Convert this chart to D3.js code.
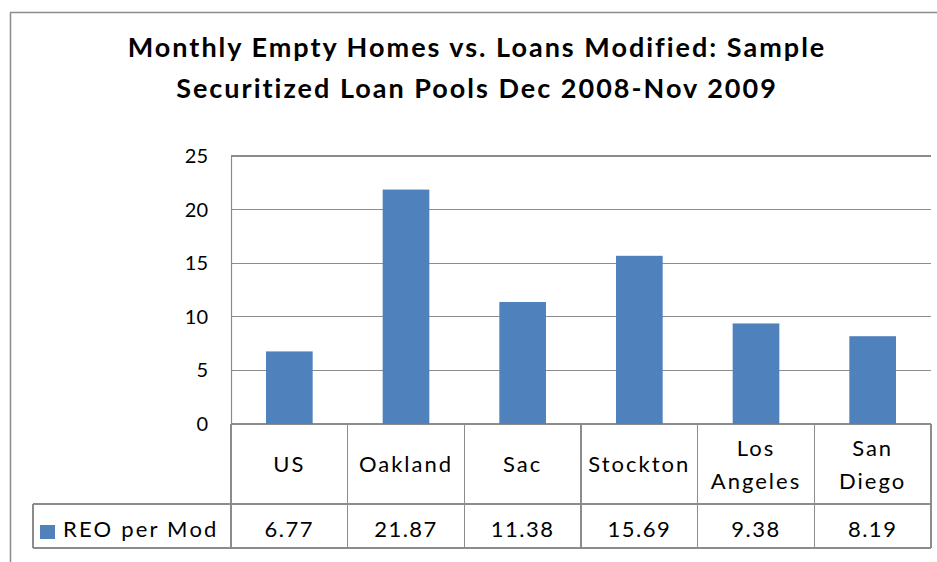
<!DOCTYPE html>
<html>
<head>
<meta charset="utf-8">
<script src="https://cdn.jsdelivr.net/npm/d3@7"></script>
<style>
  body { margin: 0; background: #fff; }
  svg { display: block; font-family: Lato, 'Open Sans', sans-serif; }
  .grid line { stroke: #8c8c8c; stroke-width: 1.2; shape-rendering: crispEdges; }
  .cell line { stroke: #8c8c8c; stroke-width: 1.2; shape-rendering: crispEdges; }
</style>
</head>
<body>
<svg id="chart" width="937" height="562"></svg>
<script>
const titleLines = ['Monthly Empty Homes vs. Loans Modified: Sample', 'Securitized Loan Pools Dec 2008-Nov 2009'];
const categories = ['US', 'Oakland', 'Sac', 'Stockton', 'Los Angeles', 'San Diego'];
const reoPerMod = [6.77, 21.87, 11.38, 15.69, 9.38, 8.19];
const seriesName = 'REO per Mod';
const yTicks = [0, 5, 10, 15, 20, 25];

const barColor = '#4f81bd';
const lineColor = '#8c8c8c';

const plot = { left: 231, right: 931, top: 156, bottom: 424 };
const table = { left: 33, headerBottom: 504, bottom: 548 };

const svg = d3.select('#chart');

// chart area frame (only top and left edges show)
svg.append('rect')
  .attr('x', 10.5)
  .attr('y', 12.5)
  .attr('width', 960)
  .attr('height', 600)
  .attr('fill', 'none')
  .attr('stroke', lineColor)
  .attr('stroke-width', 1.5);

svg.append('g')
  .selectAll('text')
  .data(titleLines)
  .join('text')
  .attr('x', 477)
  .attr('y', (d, i) => 56.5 + i * 41.5)
  .attr('text-anchor', 'middle')
  .attr('font-size', 27)
  .attr('font-weight', 'bold')
  .attr('letter-spacing', 2)
  .text(d => d);

const y = d3.scaleLinear().domain([0, 25]).range([plot.bottom, plot.top]);
const cell = d3.scaleBand().domain(categories).range([plot.left, plot.right]).padding(0);
const barW = cell.bandwidth() * 0.4;

// gridlines
svg.append('g')
  .attr('class', 'grid')
  .selectAll('line')
  .data(yTicks)
  .join('line')
  .attr('x1', plot.left)
  .attr('x2', plot.right)
  .attr('y1', d => y(d))
  .attr('y2', d => y(d));

// value axis, labels only
svg.append('g')
  .attr('transform', `translate(${plot.left},0)`)
  .call(d3.axisLeft(y).tickValues(yTicks).tickSize(0).tickPadding(23))
  .call(g => g.select('.domain').attr('stroke', lineColor).attr('stroke-width', 1.2))
  .call(g => g.selectAll('text').attr('font-size', 20).attr('fill', '#000').attr('font-family', 'Lato, sans-serif'));

// bars
svg.append('g')
  .selectAll('rect')
  .data(categories)
  .join('rect')
  .attr('x', d => cell(d) + (cell.bandwidth() - barW) / 2)
  .attr('y', (d, i) => y(reoPerMod[i]))
  .attr('width', barW)
  .attr('height', (d, i) => y(0) - y(reoPerMod[i]))
  .attr('fill', barColor);

// data table
const grid = svg.append('g').attr('class', 'cell');
const colEdges = categories.map(c => cell(c)).concat([plot.right]);
grid.selectAll('line.v')
  .data(colEdges)
  .join('line')
  .attr('class', 'v')
  .attr('x1', d => d)
  .attr('x2', d => d)
  .attr('y1', plot.bottom)
  .attr('y2', table.bottom);
grid.append('line')
  .attr('x1', table.left).attr('x2', table.left)
  .attr('y1', table.headerBottom).attr('y2', table.bottom);
grid.selectAll('line.h')
  .data([table.headerBottom, table.bottom])
  .join('line')
  .attr('class', 'h')
  .attr('x1', table.left)
  .attr('x2', plot.right)
  .attr('y1', d => d)
  .attr('y2', d => d);

const headerMid = (plot.bottom + table.headerBottom) / 2;
svg.append('g')
  .selectAll('text')
  .data(categories)
  .join('text')
  .attr('text-anchor', 'middle')
  .attr('font-size', 22)
  .attr('letter-spacing', 2)
  .each(function (d) {
    const words = d.split(' ');
    const cx = cell(d) + cell.bandwidth() / 2;
    const lineH = 33;
    const base = headerMid + 8 - (words.length - 1) * lineH / 2;
    d3.select(this)
      .selectAll('tspan')
      .data(words)
      .join('tspan')
      .attr('x', cx)
      .attr('y', (w, i) => base + i * lineH)
      .text(w => w);
  });

svg.append('g')
  .selectAll('text')
  .data(reoPerMod)
  .join('text')
  .attr('x', (d, i) => cell(categories[i]) + cell.bandwidth() / 2)
  .attr('y', 537)
  .attr('text-anchor', 'middle')
  .attr('font-size', 22)
  .attr('letter-spacing', 1.5)
  .text(d => d.toFixed(2));

// legend key in the table
svg.append('rect')
  .attr('x', 40)
  .attr('y', 525)
  .attr('width', 15)
  .attr('height', 14)
  .attr('fill', barColor);
svg.append('text')
  .attr('x', 63)
  .attr('y', 537)
  .attr('font-size', 22)
  .attr('letter-spacing', 2.2)
  .text(seriesName);
</script>
</body>
</html>
